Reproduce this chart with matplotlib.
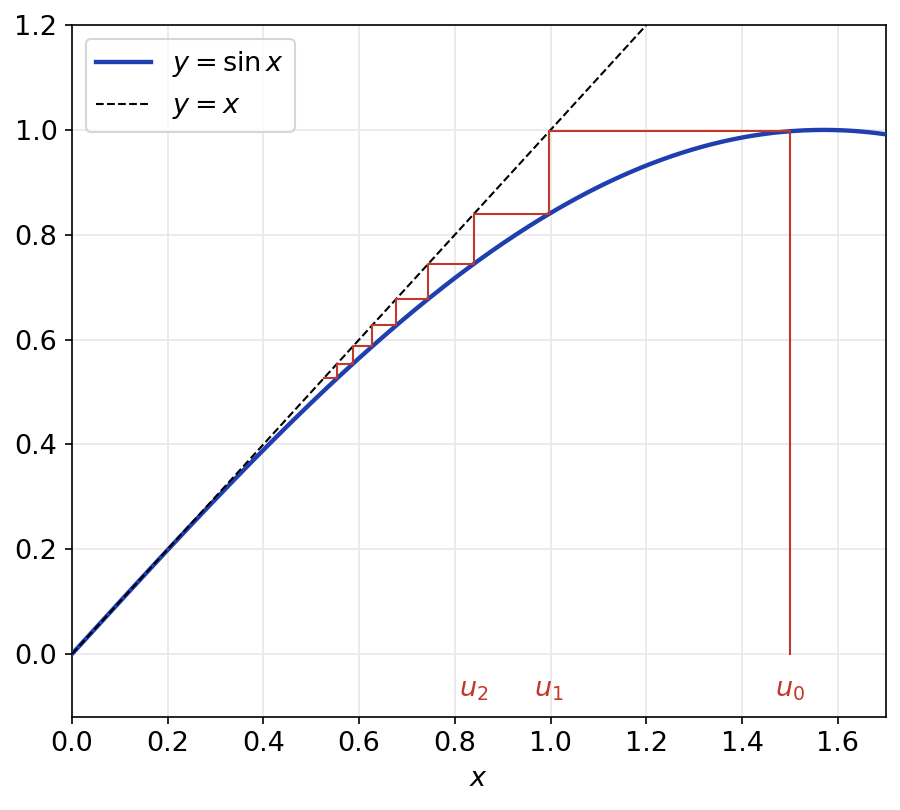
import numpy as np
import matplotlib.pyplot as plt

# iterates u_{n+1} = sin(u_n)
u = [1.5, 0.997, 0.839, 0.744, 0.677, 0.627, 0.587, 0.554, 0.526]
labelled = [0, 1, 2]

xmin, xmax = 0.0, 1.7
ymin, ymax = -0.12, 1.2

red = '#c0392b'
blue = '#1f3fb0'

fig = plt.figure(figsize=(6.0, 5.4), dpi=150)
ax = fig.add_axes([0.080, 0.115, 0.904, 0.854])

x = np.linspace(0, xmax, 400)
ax.plot(x, np.sin(x), color=blue, lw=2.1, label=r'$y=\sin x$', zorder=3)
ax.plot([0, 1.2], [0, 1.2], 'k--', lw=1.0, label=r'$y=x$', zorder=3.5)

# cobweb
px = [u[0]]
py = [0.0]
for n in range(len(u) - 1):
    px += [u[n], u[n + 1]]
    py += [u[n + 1], u[n + 1]]
ax.plot(px, py, color=red, lw=1.0, zorder=4)

for n in labelled:
    ax.text(u[n], -0.068, r'$u_{%d}$' % n, color=red, fontsize=13,
            ha='center', va='center')

ax.set_xlim(xmin, xmax)
ax.set_ylim(ymin, ymax)
ax.set_xlabel(r'$x$', fontsize=13)
ax.tick_params(labelsize=13)
ax.grid(True, color='#e8e8e8', lw=0.8)
ax.set_axisbelow(True)
ax.legend(loc='upper left', fontsize=13)

fig.savefig('out.png', dpi=150)
